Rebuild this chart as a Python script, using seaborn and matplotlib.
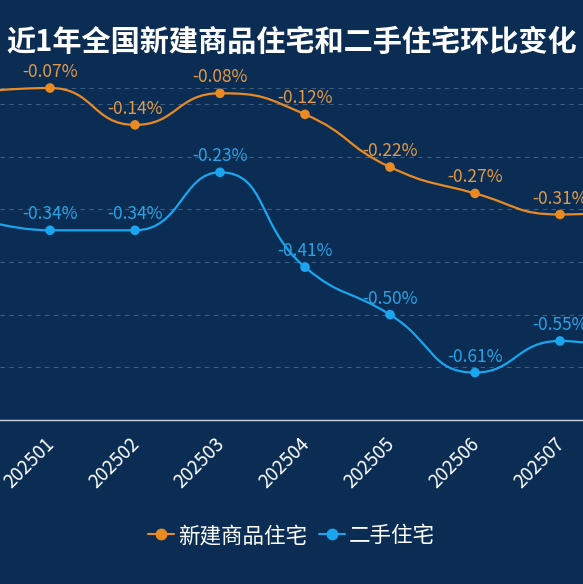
import numpy as np
import pandas as pd
import matplotlib
matplotlib.use("Agg")
import matplotlib.pyplot as plt
from matplotlib.path import Path
from matplotlib.patches import PathPatch
from matplotlib.lines import Line2D
import seaborn as sns

# data (202412 and 202508 sit just outside the visible window)
months = ["202412", "202501", "202502", "202503", "202504", "202505", "202506", "202507", "202508"]
new_home = [-0.08, -0.07, -0.14, -0.08, -0.12, -0.22, -0.27, -0.31, -0.30]
second_hand = [-0.31, -0.34, -0.34, -0.23, -0.41, -0.50, -0.61, -0.55, -0.58]
series_names = ["新建商品住宅", "二手住宅"]
colors = ["#e98b22", "#1aa6ee"]
label_colors = ["#e39a45", "#2aa3e4"]

title = "近1年全国新建商品住宅和二手住宅环比变化"

bg = "#0b2d54"

sns.set_theme(style="dark")
plt.rcParams["font.family"] = ["Noto Sans CJK SC", "DejaVu Sans"]

df = pd.DataFrame({
    "month": months * 2,
    "x": list(range(len(months))) * 2,
    "value": new_home + second_hand,
    "series": [series_names[0]] * len(months) + [series_names[1]] * len(months),
})


def clamp(v, a, b):
    return min(max(v, min(a, b)), max(a, b))


def smooth_path(xs, ys, s=0.5, sx=85.0, sy=525.0):
    # echarts-style smoothing (control points clamped, no overshoot)
    px = np.asarray(xs, float) * sx
    py = np.asarray(ys, float) * sy
    n = len(px)
    cin, cout = [], []
    for i in range(n):
        x, y = px[i], py[i]
        if i == 0 or i == n - 1:
            cin.append((x, y))
            cout.append((x, y))
            continue
        pX, pY, nX, nY = px[i - 1], py[i - 1], px[i + 1], py[i + 1]
        vx, vy = nX - pX, nY - pY
        l0 = np.hypot(x - pX, y - pY)
        l1 = np.hypot(nX - x, nY - y)
        r = l1 / (l0 + l1)
        ncx = clamp(x + vx * s * r, nX, x)
        ncy = clamp(y + vy * s * r, nY, y)
        vx, vy = ncx - x, ncy - y
        c1x = clamp(x - vx * l0 / l1, pX, x)
        c1y = clamp(y - vy * l0 / l1, pY, y)
        vx, vy = x - c1x, y - c1y
        ncx = x + vx * l1 / l0
        ncy = y + vy * l1 / l0
        cin.append((c1x, c1y))
        cout.append((ncx, ncy))
    verts = [(px[0], py[0])]
    codes = [Path.MOVETO]
    for i in range(n - 1):
        verts += [cout[i], cin[i + 1], (px[i + 1], py[i + 1])]
        codes += [Path.CURVE4] * 3
    verts = [(vx / sx, vy / sy) for vx, vy in verts]
    return Path(verts, codes)


fig = plt.figure(figsize=(5.83, 5.84), dpi=100, facecolor=bg)
ax = fig.add_axes([0, 1 - 420 / 584, 1, (420 - 88) / 584])
ax.set_facecolor(bg)

for name, col in zip(series_names, colors):
    sub = df[df["series"] == name]
    ax.add_patch(PathPatch(smooth_path(sub["x"], sub["value"]), facecolor="none",
                           edgecolor=col, lw=1.6, clip_on=False, zorder=3))

sns.scatterplot(data=df, x="x", y="value", hue="series", palette=colors,
                s=48, edgecolor="none", legend=False, ax=ax, zorder=4, clip_on=False)

for name, lc in zip(series_names, label_colors):
    sub = df[df["series"] == name]
    for xv, v in zip(sub["x"], sub["value"]):
        ax.annotate(f"{v:.2f}%", (xv, v), xytext=(0, 5), textcoords="offset points",
                    ha="center", va="bottom", fontsize=12.5, color=lc, zorder=5)

# month labels, rotated, hung under the axis line
ax.set_xticks(range(len(months)))
ax.set_xticklabels([])
for i, m in enumerate(months):
    ax.annotate(m, (i, 0), xycoords=ax.get_xaxis_transform(), xytext=(-4.5, -9.5),
                textcoords="offset points", rotation=45, rotation_mode="anchor",
                ha="right", va="top", fontsize=13.5, color="white")

ax.set_yticks([-0.6, -0.5, -0.4, -0.3, -0.2, -0.1, -0.07])
ax.set_yticklabels([])
ax.set_xlim(1 - 50 / 85, 1 + 533 / 85)
ax.set_ylim(-0.7, -0.07)
ax.yaxis.grid(True, linestyle=(0, (4, 4)), color="#3d5f86", lw=0.8)
ax.xaxis.grid(False)
ax.tick_params(axis="both", length=0)
ax.set_xlabel("")
ax.set_ylabel("")
for sp in ["top", "left", "right"]:
    ax.spines[sp].set_visible(False)
ax.spines["bottom"].set_color("#c9d6e8")
ax.spines["bottom"].set_linewidth(1)

fig.text(0.5, 1 - 42 / 584, title, ha="center", va="center", fontsize=21,
         fontweight="bold", color="white")

handles = [Line2D([], [], color=c, marker="o", markersize=7.5, lw=1.5) for c in colors]
fig.legend(handles, series_names, loc="center", bbox_to_anchor=(0.5, 1 - 536 / 584),
           ncol=2, frameon=False, fontsize=15.5, labelcolor="white",
           handlelength=1.2, handletextpad=0.2, columnspacing=0.55)

fig.savefig("out.png", dpi=100, facecolor=bg)
